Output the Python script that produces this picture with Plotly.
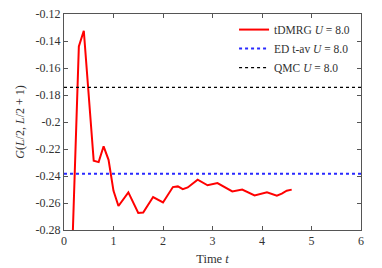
import plotly.graph_objects as go

# tDMRG data (time, correlation)
t_dmrg = [0.1, 0.3, 0.4, 0.6, 0.7, 0.8, 0.9, 1.0, 1.1, 1.3, 1.5, 1.6, 1.8, 2.0,
          2.2, 2.3, 2.4, 2.5, 2.7, 2.9, 3.1, 3.4, 3.6, 3.85, 4.1, 4.3, 4.4, 4.5, 4.6]
g_dmrg = [-0.37, -0.144, -0.1324, -0.2287, -0.2297, -0.218, -0.228, -0.251, -0.2622,
          -0.2521, -0.2674, -0.267, -0.2556, -0.2596, -0.2482, -0.2477, -0.2497,
          -0.2485, -0.2427, -0.2469, -0.2452, -0.2514, -0.2501, -0.2544, -0.2521,
          -0.2546, -0.253, -0.2509, -0.2501]

ed_tav = -0.2383
qmc = -0.1744
x_range = [0, 6]
y_range = [-0.28, -0.12]

x_ticks = [0, 1, 2, 3, 4, 5, 6]
y_ticks = [-0.12, -0.14, -0.16, -0.18, -0.2, -0.22, -0.24, -0.26, -0.28]
y_tick_labels = ["-0.12", "-0.14", "-0.16", "-0.18", "-0.2", "-0.22", "-0.24", "-0.26", "-0.28"]

names = ["tDMRG <i>U</i> = 8.0", "ED t-av <i>U</i> = 8.0", "QMC <i>U</i> = 8.0"]

font = "Liberation Serif, DejaVu Serif, serif"

fig = go.Figure()
fig.add_trace(go.Scatter(x=t_dmrg, y=g_dmrg, mode="lines", name=names[0],
                         line=dict(color="#ff0000", width=2)))
fig.add_trace(go.Scatter(x=x_range, y=[ed_tav, ed_tav], mode="lines", name=names[1],
                         line=dict(color="#2a2aff", width=2, dash="dot")))
fig.add_trace(go.Scatter(x=x_range, y=[qmc, qmc], mode="lines", name=names[2],
                         line=dict(color="#000000", width=1.3, dash="dot")))

axis_common = dict(showline=True, linecolor="#555555", linewidth=1, mirror="ticks",
                   ticks="inside", ticklen=4, tickcolor="#555555", showgrid=False,
                   zeroline=False, automargin=False, ticklabeloverflow="allow",
                   tickfont=dict(family=font, size=12, color="#333"))

fig.update_layout(
    width=374, height=260,
    margin=dict(l=56, r=21, t=6, b=38),
    paper_bgcolor="white", plot_bgcolor="white",
    font=dict(family=font, size=12, color="#333"),
    showlegend=True,
    legend=dict(x=0.98, y=0.995, xanchor="right", yanchor="top",
                bgcolor="rgba(0,0,0,0)", font=dict(family=font, size=11.5),
                tracegroupgap=0, itemwidth=30),
    xaxis=dict(range=x_range, tickvals=x_ticks,
               title=dict(text="Time <i>t</i>", standoff=6, font=dict(family=font, size=12.5)),
               **axis_common),
    yaxis=dict(range=y_range, tickvals=y_ticks, ticktext=y_tick_labels,
               title=dict(text="<i>G</i>(<i>L</i>/2, <i>L</i>/2 + 1)", standoff=8,
                          font=dict(family=font, size=12)),
               **axis_common),
)

fig.write_html("out.html")
